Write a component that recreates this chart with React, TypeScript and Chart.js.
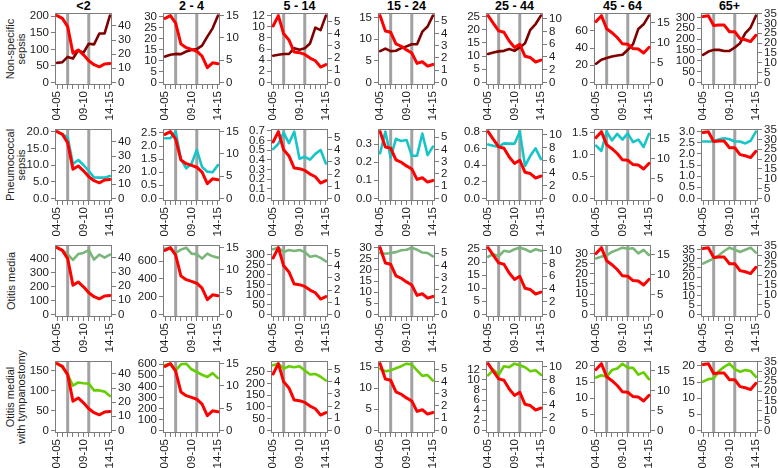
import React, { useEffect, useRef } from 'react';
import { Chart, registerables } from 'chart.js';

Chart.register(...registerables);

// ---------- data ----------
const seasons = ['04-05', '05-06', '06-07', '07-08', '08-09', '09-10', '10-11', '11-12', '12-13', '13-14', '14-15'];
const labelledSeasons = ['04-05', '09-10', '14-15'];
const vaccineSeasons = ['06-07', '10-11'];
const ageGroups = ['<2', '2 - 4', '5 - 14', '15 - 24', '25 - 44', '45 - 64', '65+'];
const outcomeLabels = [['Non-specific', 'sepsis'], ['Pneumococcal', 'sepsis'], ['Otitis media'], ['Otitis medial', 'with tympanostomy']];

// IPD incidence (red line, right axis), one per age group
const ipdU2 = [47.3, 45.4, 39.5, 20.7, 23.0, 19.5, 15.3, 12.5, 11.0, 13.0, 13.4];
const ipd2to4 = [14.4, 15.0, 13.3, 8.6, 7.8, 7.4, 7.0, 5.9, 3.3, 4.4, 4.2];
const ipd5to14 = [4.65, 5.5, 4.0, 3.5, 2.5, 2.45, 2.3, 2.0, 1.78, 1.26, 1.46];
const ipd15to24 = [5.45, 4.2, 4.1, 3.15, 2.95, 2.65, 2.4, 1.55, 1.68, 1.33, 1.46];
const ipd25to44 = [10.5, 9.3, 8.1, 7.9, 6.5, 5.5, 6.0, 4.1, 3.9, 3.2, 3.5];
const ipd45to64 = [15.3, 16.8, 13.5, 12.5, 11.3, 9.7, 9.6, 8.5, 8.4, 7.4, 8.8];
const ipd65plus = [33.6, 34.0, 29.0, 29.2, 29.2, 25.8, 25.8, 22.3, 21.7, 20.8, 24.0];
const ipdSeries = [ipdU2, ipd2to4, ipd5to14, ipd15to24, ipd25to44, ipd45to64, ipd65plus];
const ipdTicks = [
  [0, 10, 20, 30, 40],
  [0, 5, 10, 15],
  [0, 1, 2, 3, 4, 5],
  [0, 1, 2, 3, 4, 5],
  [0, 2, 4, 6, 8, 10],
  [0, 5, 10, 15],
  [0, 5, 10, 15, 20, 25, 30, 35],
];

// Non-specific sepsis (left axis)
const nssU2 = [59, 61, 77, 72, 97, 90, 117, 115, 148, 148, 202];
const nss2to4 = [11.8, 12.6, 13.0, 12.9, 14.1, 14.8, 15.2, 16.8, 20.9, 24.7, 30.5];
const nss5to14 = [4.8, 4.95, 5.1, 5.1, 6.15, 5.85, 6.15, 7.0, 9.85, 9.4, 12.0];
const nss15to24 = [7.2, 7.8, 7.2, 7.3, 7.9, 8.3, 8.8, 8.8, 11.7, 12.9, 15.4];
const nss25to44 = [10.8, 11.4, 11.8, 12.0, 12.7, 12.0, 13.3, 14.9, 20.0, 22.2, 25.4];
const nss45to64 = [21.7, 26.4, 28.3, 30.2, 31.4, 32.2, 38.0, 44.6, 62.4, 67.8, 77.9];
const nss65plus = [127, 142, 150, 150, 145, 145, 161, 181, 227, 253, 308];

// Pneumococcal sepsis (left axis)
const psU2 = [20.0, 19.2, 18.3, 10.3, 11.5, 10.0, 8.2, 6.3, 6.2, 6.2, 6.7];
const ps2to4 = [2.3, 2.3, 2.55, 1.5, 1.15, 1.32, 1.85, 1.2, 1.02, 1.0, 1.27];
const ps5to14 = [0.51, 0.565, 0.68, 0.57, 0.69, 0.41, 0.43, 0.4, 0.46, 0.5, 0.36];
const ps15to24 = [0.25, 0.37, 0.227, 0.33, 0.318, 0.324, 0.236, 0.236, 0.36, 0.24, 0.287];
const ps25to44 = [0.645, 0.63, 0.617, 0.66, 0.656, 0.656, 0.8, 0.39, 0.51, 0.6, 0.47];
const ps45to64 = [1.2, 1.08, 1.52, 1.32, 1.47, 1.34, 1.48, 1.28, 1.34, 1.17, 1.47];
const ps65plus = [2.56, 2.56, 2.56, 2.66, 2.7, 2.66, 2.56, 2.56, 2.47, 2.59, 3.0];

// Otitis media (left axis)
const omU2 = [478, 460, 430, 390, 432, 440, 460, 393, 428, 407, 428];
const om2to4 = [739, 739, 690, 728, 750, 683, 675, 627, 683, 653, 638];
const om5to14 = [326, 334, 312, 322, 317, 322, 312, 288, 294, 283, 265];
const om15to24 = [27.6, 27.3, 27.6, 28.0, 28.8, 29.1, 30.0, 29.1, 27.8, 27.6, 26.1];
const om25to44 = [22.1, 23.1, 22.3, 24.4, 24.0, 25.0, 25.6, 25.0, 24.0, 25.0, 24.4];
const om45to64 = [27.5, 28.4, 29.0, 30.7, 31.7, 32.8, 32.3, 32.5, 30.0, 31.7, 29.2];
const om65plus = [27.3, 28.7, 30.0, 31.8, 34.1, 35.9, 34.8, 33.6, 34.8, 35.9, 33.2];

// Otitis media with tympanostomy (left axis)
const omtU2 = [167, 158, 140, 112, 120, 118, 117, 100, 100, 97, 86];
const omt2to4 = [594, 606, 545, 600, 606, 555, 530, 505, 485, 520, 475];
const omt5to14 = [278, 285, 264, 274, 270, 274, 256, 239, 241, 229, 213];
const omt15to24 = [14.6, 14.0, 14.2, 14.7, 15.2, 15.8, 15.6, 14.2, 12.9, 13.1, 11.8];
const omt25to44 = [10.9, 12.0, 11.0, 12.7, 12.5, 13.2, 12.9, 12.5, 11.7, 11.9, 11.0];
const omt45to64 = [16.4, 17.1, 16.6, 18.7, 19.2, 20.7, 19.4, 19.4, 17.3, 18.0, 15.9];
const omt65plus = [15.1, 15.9, 16.1, 18.4, 19.7, 20.7, 19.0, 18.2, 18.7, 18.4, 16.6];

const outcomeSeries = [
  [nssU2, nss2to4, nss5to14, nss15to24, nss25to44, nss45to64, nss65plus],
  [psU2, ps2to4, ps5to14, ps15to24, ps25to44, ps45to64, ps65plus],
  [omU2, om2to4, om5to14, om15to24, om25to44, om45to64, om65plus],
  [omtU2, omt2to4, omt5to14, omt15to24, omt25to44, omt45to64, omt65plus],
];

const nssTicks = [[0, 50, 100, 150, 200], [0, 5, 10, 15, 20, 25, 30], [0, 2, 4, 6, 8, 10, 12], [0, 5, 10, 15], [0, 5, 10, 15, 20, 25], [0, 20, 40, 60], [0, 50, 100, 150, 200, 250, 300]];
const psTicks = [[0, 5, 10, 15, 20], [0, 0.5, 1, 1.5, 2, 2.5], [0, 0.1, 0.2, 0.3, 0.4, 0.5, 0.6, 0.7], [0, 0.1, 0.2, 0.3], [0, 0.2, 0.4, 0.6, 0.8], [0, 0.5, 1, 1.5], [0, 0.5, 1, 1.5, 2, 2.5, 3]];
const omTicks = [[0, 100, 200, 300, 400], [0, 200, 400, 600], [0, 50, 100, 150, 200, 250, 300], [0, 5, 10, 15, 20, 25, 30], [0, 5, 10, 15, 20, 25], [0, 5, 10, 15, 20, 25, 30], [0, 5, 10, 15, 20, 25, 30, 35]];
const omtTicks = [[0, 50, 100, 150], [0, 100, 200, 300, 400, 500, 600], [0, 50, 100, 150, 200, 250], [0, 5, 10, 15], [0, 2, 4, 6, 8, 10, 12], [0, 5, 10, 15, 20], [0, 5, 10, 15, 20]];
const outcomeTicks = [nssTicks, psTicks, omTicks, omtTicks];
const outcomeTickDecimals = [0, 1, 0, 0];

// ---------- style ----------
const RED = '#ff0000';
const ROW_COLORS = ['#800000', '#17c5c9', '#7ab67a', '#66cd00'];
const FONT = "'Liberation Sans', Arial, Helvetica, sans-serif";
const AXIS_GRAY = '#7c7c7c';
const TEXT = '#1c1c1c';

const BOX_X0 = 55.2;
const BOX_DX = 107.7;
const BOX_Y0 = 12.5;
const BOX_DY = 116.2;
const BOX_W = 57;
const BOX_H = 72;
const LEFT_W = 36;
const RIGHT_W = 33;
const TOP_PAD = 10;
const BOTTOM_H = 38;
const CANVAS_W = LEFT_W + BOX_W + RIGHT_W;
const CANVAS_H = TOP_PAD + BOX_H + BOTTOM_H;

const boxLeft = (c: number) => Math.round(BOX_X0 + c * BOX_DX);
const boxTop = (r: number) => Math.round(BOX_Y0 + r * BOX_DY);

const rBoxPlugin = {
  id: 'rBox',
  beforeDatasetsDraw(chart: any) {
    const { ctx, chartArea: a, scales } = chart;
    ctx.save();
    ctx.strokeStyle = '#a2a2a2';
    ctx.lineWidth = 3;
    for (const s of vaccineSeasons) {
      const x = scales.x.getPixelForValue(seasons.indexOf(s));
      ctx.beginPath();
      ctx.moveTo(x, a.top);
      ctx.lineTo(x, a.bottom);
      ctx.stroke();
    }
    ctx.strokeStyle = AXIS_GRAY;
    ctx.lineWidth = 1;
    ctx.strokeRect(a.left + 0.5, a.top + 0.5, a.width - 1, a.height - 1);
    ctx.restore();
  },
};

function Panel({ row, col }: { row: number; col: number }) {
  const ref = useRef<HTMLCanvasElement>(null);
  useEffect(() => {
    if (!ref.current) return;
    const red = ipdSeries[col];
    const other = outcomeSeries[row][col];
    const lMax = Math.max(...other);
    const rMax = Math.max(...red);
    const lTicks = outcomeTicks[row][col];
    const rTicks = ipdTicks[col];
    const dec = outcomeTickDecimals[row];
    const tickFont = { family: FONT, size: 11.5 };
    const yCommon = {
      type: 'linear',
      grid: { drawOnChartArea: false, drawTicks: true, tickLength: 4, color: AXIS_GRAY, lineWidth: 1 },
      border: { display: false },
    };
    const chart = new Chart(ref.current, {
      type: 'line',
      data: {
        datasets: [
          {
            data: red.map((v, i) => ({ x: i, y: v })),
            yAxisID: 'y1',
            borderColor: RED,
            borderWidth: 3,
          },
          {
            data: other.map((v, i) => ({ x: i, y: v })),
            yAxisID: 'y',
            borderColor: ROW_COLORS[row],
            borderWidth: 2.6,
          },
        ],
      },
      options: {
        responsive: false,
        maintainAspectRatio: false,
        animation: false,
        devicePixelRatio: 1,
        events: [],
        layout: { padding: { top: TOP_PAD, left: 0, right: 0, bottom: 0 } },
        elements: {
          line: { tension: 0, fill: false, borderJoinStyle: 'round', borderCapStyle: 'round' },
          point: { radius: 0 },
        },
        plugins: { legend: { display: false }, tooltip: { enabled: false }, title: { display: false } },
        scales: {
          x: {
            type: 'linear',
            position: 'bottom',
            min: -0.4,
            max: seasons.length - 1 + 0.4,
            afterBuildTicks: (s: any) => {
              s.ticks = seasons.map((_, i) => ({ value: i }));
            },
            afterFit: (s: any) => {
              s.height = BOTTOM_H;
            },
            grid: { drawOnChartArea: false, drawTicks: true, tickLength: 4, color: AXIS_GRAY, lineWidth: 1 },
            border: { display: false },
            ticks: {
              autoSkip: false,
              minRotation: 90,
              maxRotation: 90,
              padding: 2,
              font: tickFont,
              color: TEXT,
              callback: (v: any) => {
                const s = seasons[Math.round(v)];
                return labelledSeasons.includes(s) ? s : '';
              },
            },
          },
          y: {
            ...yCommon,
            position: 'left',
            min: -0.04 * lMax,
            max: 1.04 * lMax,
            afterBuildTicks: (s: any) => {
              s.ticks = lTicks.map((v) => ({ value: v }));
            },
            afterFit: (s: any) => {
              s.width = LEFT_W;
            },
            ticks: { autoSkip: false, padding: 2, font: tickFont, color: TEXT, callback: (v: any) => Number(v).toFixed(dec) },
          },
          y1: {
            ...yCommon,
            position: 'right',
            min: -0.04 * rMax,
            max: 1.04 * rMax,
            afterBuildTicks: (s: any) => {
              s.ticks = rTicks.map((v) => ({ value: v }));
            },
            afterFit: (s: any) => {
              s.width = RIGHT_W;
            },
            ticks: { autoSkip: false, padding: 2, font: tickFont, color: TEXT, callback: (v: any) => String(v) },
          },
        },
      } as any,
      plugins: [rBoxPlugin],
    });
    return () => chart.destroy();
  }, [row, col]);
  return (
    <canvas
      ref={ref}
      width={CANVAS_W}
      height={CANVAS_H}
      style={{ position: 'absolute', left: boxLeft(col) - LEFT_W, top: boxTop(row) - TOP_PAD, width: CANVAS_W, height: CANVAS_H }}
    />
  );
}

export default function App() {
  const panels: JSX.Element[] = [];
  for (let r = 0; r < outcomeSeries.length; r++) {
    for (let c = 0; c < ageGroups.length; c++) {
      panels.push(<Panel key={`${r}-${c}`} row={r} col={c} />);
    }
  }
  return (
    <div style={{ position: 'fixed', left: 0, top: 0, width: 778, height: 468, background: '#fff', overflow: 'hidden', fontFamily: FONT }}>
      {ageGroups.map((g, c) => (
        <div
          key={g}
          style={{
            position: 'absolute',
            left: boxLeft(c) + BOX_W / 2 - 40,
            top: -1,
            width: 80,
            textAlign: 'center',
            fontWeight: 'bold',
            fontSize: 12.5,
            lineHeight: '14px',
            color: '#000',
          }}
        >
          {g}
        </div>
      ))}
      {outcomeLabels.map((lines, r) => {
        const cy = boxTop(r) + BOX_H / 2;
        const xs = lines.length === 1 ? [10.5] : [9.5, 20.5];
        return lines.map((t, k) => (
          <div
            key={`${r}-${k}`}
            style={{
              position: 'absolute',
              left: xs[k],
              top: cy,
              width: 0,
              height: 0,
            }}
          >
            <div
              style={{
                position: 'absolute',
                left: 0,
                top: 0,
                transform: 'translate(-50%, -50%) rotate(-90deg)',
                whiteSpace: 'nowrap',
                fontSize: 11,
                lineHeight: '12px',
                color: TEXT,
              }}
            >
              {t}
            </div>
          </div>
        ));
      })}
      {panels}
    </div>
  );
}
